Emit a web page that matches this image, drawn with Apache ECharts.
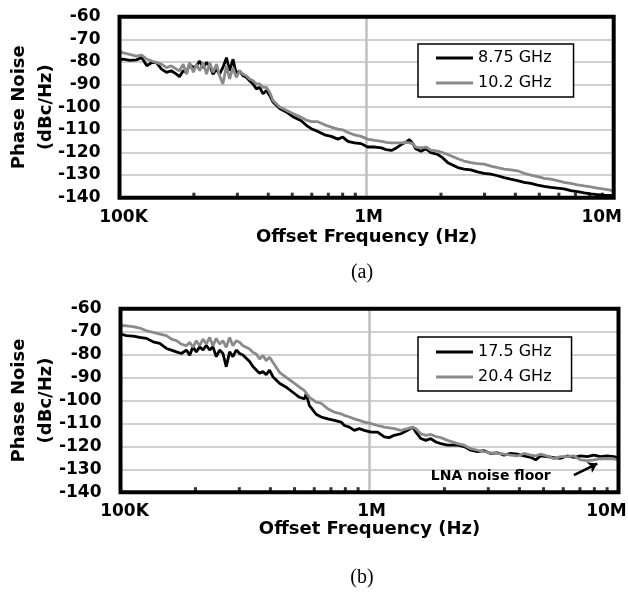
<!DOCTYPE html>
<html><head><meta charset="utf-8">
<script src="https://cdn.jsdelivr.net/npm/echarts@6/dist/echarts.min.js"></script>
<style>html,body{margin:0;padding:0;background:#fff;}#c{width:628px;height:595px;}</style>
</head><body><div id="c"></div>
<script>
// ---- data ----
const xTickValues = [1e5, 1e6, 1e7];
const xTickLabels = ['100K', '1M', '10M'];
const yRange = [-140, -60];
const yStep = 10;
const minorTickFreqs = [2e5, 3e5, 4e5, 5e5, 6e5, 7e5, 8e5, 9e5, 2e6, 3e6, 4e6, 5e6, 6e6, 7e6, 8e6, 9e6];

const topNames = ['8.75 GHz', '10.2 GHz'];
const topFreq = [1.00e5, 1.035e5, 1.10e5, 1.17e5, 1.23e5, 1.29e5, 1.35e5, 1.41e5, 1.48e5, 1.55e5,
  1.62e5, 1.70e5, 1.75e5, 1.81e5, 1.87e5, 1.92e5, 1.99e5,
  2.05e5, 2.11e5, 2.18e5, 2.25e5, 2.32e5, 2.39e5, 2.47e5, 2.54e5, 2.62e5, 2.71e5, 2.79e5, 2.88e5, 2.97e5,
  3.06e5, 3.16e5, 3.26e5, 3.36e5, 3.47e5, 3.58e5, 3.69e5, 3.81e5, 3.93e5,
  4.05e5, 4.18e5, 4.45e5, 4.73e5, 5.03e5,
  5.44e5, 5.70e5, 5.97e5, 6.35e5, 6.76e5, 7.19e5, 7.65e5, 8.01e5, 8.40e5, 8.93e5, 9.50e5,
  1.01e6, 1.08e6, 1.15e6, 1.20e6, 1.26e6, 1.32e6, 1.38e6, 1.44e6, 1.49e6, 1.54e6, 1.58e6, 1.66e6, 1.74e6, 1.82e6, 1.94e6,
  2.03e6, 2.13e6, 2.34e6, 2.48e6, 2.64e6, 2.81e6, 2.99e6,
  3.18e6, 3.39e6, 3.60e6, 3.83e6,
  4.08e6, 4.34e6, 4.62e6, 4.92e6,
  5.23e6, 5.56e6, 5.92e6,
  6.30e6, 6.70e6, 7.13e6, 7.59e6, 8.07e6, 8.59e6, 9.14e6, 9.72e6, 1.0e7];
const top875 = [-79.0, -78.8, -79.3, -79.1, -78.1, -81.7, -80.3, -80.3, -83.2, -84.6,
  -83.9, -85.4, -86.5, -83.9, -84.6, -81.0, -82.5,
  -81.7, -79.6, -82.5, -80.3, -81.7, -85.4, -83.2, -85.4, -82.5, -78.1, -83.9, -78.8, -85.4,
  -83.9, -86.1, -86.8, -88.3, -89.7, -91.9, -91.2, -94.1, -92.6,
  -94.8, -97.7, -100.6, -102.1, -104.2,
  -106.0, -108.0, -109.5, -110.7, -112.2, -112.9, -114.1, -113.2, -115.1, -115.8, -116.1,
  -117.6, -117.6, -118.0, -118.8, -119.1, -118.0, -116.5, -115.5, -114.3, -116.1, -118.4, -119.5, -118.4, -120.1, -120.9,
  -122.3, -124.5, -126.7, -127.4, -127.7, -128.6, -129.2,
  -129.6, -130.3, -131.1, -131.8,
  -132.5, -133.2, -133.7, -134.4,
  -135.0, -135.4, -135.8,
  -136.1, -136.9, -137.3, -137.9, -138.3, -138.6, -138.9, -139.0, -139.2];
const top102 = [-75.2, -76.0, -76.7, -77.4, -77.0, -78.8, -79.6, -80.3, -81.0, -82.5,
  -81.7, -83.2, -83.9, -81.0, -85.4, -80.3, -84.6,
  -81.0, -83.9, -80.3, -85.4, -80.3, -84.6, -81.0, -86.1, -89.7, -81.7, -87.5, -82.5, -86.8,
  -83.9, -85.4, -86.1, -87.5, -88.3, -89.7, -89.7, -91.2, -91.2,
  -93.4, -97.0, -99.9, -101.4, -102.8,
  -104.5, -105.7, -106.4, -106.4, -107.8, -108.8, -109.7, -110.0, -111.2, -112.2, -112.9,
  -114.1, -114.7, -115.1, -115.5, -115.8, -115.8, -115.8, -115.5, -115.8, -116.1, -117.6, -118.0, -117.6, -119.0, -119.4,
  -120.1, -120.9, -122.8, -123.8, -124.5, -124.9, -125.2,
  -126.0, -126.7, -127.4, -127.7,
  -128.1, -129.2, -130.0, -130.7,
  -131.5, -131.8, -132.5,
  -133.2, -133.7, -134.3, -134.8, -135.2, -135.8, -136.2, -136.7, -137.3];

const botNames = ['17.5 GHz', '20.4 GHz'];
const botFreq = [1.0e5, 1.057e5, 1.124e5, 1.195e5, 1.271e5, 1.352e5, 1.438e5,
  1.529e5, 1.601e5, 1.677e5, 1.756e5, 1.839e5, 1.896e5, 1.955e5,
  2.016e5, 2.079e5, 2.144e5, 2.211e5, 2.280e5, 2.351e5, 2.425e5, 2.501e5, 2.579e5, 2.659e5, 2.743e5, 2.828e5, 2.917e5,
  3.008e5, 3.102e5, 3.199e5, 3.299e5, 3.402e5, 3.509e5, 3.618e5, 3.731e5, 3.848e5, 3.968e5,
  4.092e5, 4.352e5, 4.628e5, 4.921e5,
  5.234e5, 5.481e5, 5.566e5, 5.740e5,
  6.105e5, 6.392e5, 6.798e5,
  7.228e5, 7.688e5, 7.93e5,
  8.30e5, 8.69e5,
  9.10e5, 9.53e5,
  1.014e6, 1.078e6, 1.147e6, 1.20e6, 1.257e6, 1.337e6, 1.422e6, 1.49e6, 1.536e6, 1.608e6, 1.684e6, 1.763e6, 1.847e6, 1.935e6,
  2.057e6, 2.256e6, 2.399e6, 2.551e6, 2.713e6, 2.885e6,
  3.069e6, 3.264e6, 3.470e6, 3.691e6, 3.925e6,
  4.173e6, 4.439e6, 4.648e6, 4.868e6,
  5.177e6, 5.505e6, 5.855e6,
  6.227e6, 6.621e6,
  7.042e6, 7.49e6, 7.96e6,
  8.47e6,
  9.01e6, 9.58e6, 9.88e6, 1.0e7];
const bot175 = [-71.0, -71.7, -71.9, -72.5, -72.9, -74.4, -75.1,
  -77.3, -78.0, -78.8, -79.5, -78.0, -80.2, -76.6,
  -78.8, -76.6, -78.0, -75.9, -78.0, -76.6, -80.9, -78.0, -79.5, -85.3, -78.8, -80.9, -78.0,
  -79.5, -80.2, -81.6, -83.0, -85.2, -86.7, -88.1, -87.4, -88.8, -86.7,
  -89.6, -92.5, -94.2, -96.4,
  -98.6, -99.3, -97.1, -102.2,
  -106.0, -107.2, -108.0,
  -108.7, -109.4, -110.9,
  -111.6, -113.0,
  -112.3, -113.0,
  -113.8, -113.8, -115.9, -116.2, -115.2, -114.5, -113.0, -111.6, -113.8, -116.6, -117.4, -116.6, -118.1, -118.8,
  -119.5, -119.5, -120.1, -121.7, -122.3, -121.9,
  -123.1, -122.8, -123.8, -123.1, -123.4,
  -124.2, -124.8, -125.9, -124.2,
  -124.5, -124.9, -125.2,
  -124.2, -124.8,
  -124.2, -124.5, -123.8,
  -124.5,
  -124.2, -124.5, -124.8, -125.0];
const bot204 = [-67.3, -67.4, -67.8, -68.4, -69.6, -70.3, -71.0,
  -71.7, -73.2, -73.9, -75.4, -76.1, -74.6, -76.8,
  -73.9, -76.1, -73.2, -75.4, -72.5, -76.1, -72.9, -75.4, -73.9, -76.8, -72.5, -76.1, -73.9,
  -74.6, -76.1, -76.8, -77.5, -79.0, -79.7, -81.9, -80.4, -82.6, -81.1,
  -83.3, -87.7, -89.9, -92.0,
  -94.2, -95.7, -94.9, -98.6,
  -100.7, -101.2, -103.6,
  -105.1, -105.8, -106.5,
  -107.2, -108.0,
  -108.7, -109.4,
  -110.1, -110.9, -111.6, -111.9, -112.3, -113.0, -112.3, -111.6, -112.3, -114.5, -115.2, -114.8, -115.7, -116.2,
  -117.4, -118.8, -119.5, -121.0, -121.7, -122.3,
  -122.8, -123.1, -123.4, -123.8, -124.2,
  -123.1, -123.8, -124.2, -123.4,
  -124.2, -125.4, -124.5,
  -124.5, -124.2,
  -125.9, -126.2, -125.9,
  -125.4,
  -125.4, -125.4, -125.9, -125.6];

const noteText = 'LNA noise floor';
const notePoint = [3.07e6, -133.0];
const arrowFrom = [6.62e6, -132.6];
const arrowTo = [8.22e6, -127.5];
const panelLabels = ['(a)', '(b)'];
const xName = 'Offset Frequency (Hz)';
const yName = 'Phase Noise\n(dBc/Hz)';

// ---- chart ----
const FONT = 'DejaVu Sans';
const pair = (fs, vs) => fs.map((f, i) => [f, vs[i]]);
const richKeys = ['a', 'b', 'c'];
function xLabelFmt(v) {
  for (let i = 0; i < xTickValues.length; i++) {
    if (Math.abs(Math.log10(v) - Math.log10(xTickValues[i])) < 1e-6) return '{' + richKeys[i] + '|' + xTickLabels[i] + '}';
  }
  return '';
}
const lblFont = {fontFamily: FONT, fontWeight: 'bold', fontSize: 17, color: '#000'};
function xAxisOf(i, nameGap) {
  return {
    type: 'log', logBase: 10, gridIndex: i, min: xTickValues[0], max: xTickValues[xTickValues.length - 1],
    name: xName, nameLocation: 'middle', nameGap: nameGap, nameMoveOverlap: false,
    nameTextStyle: {fontFamily: FONT, fontWeight: 'bold', fontSize: 18, color: '#000'},
    axisLine: {show: false}, axisTick: {show: false}, minorTick: {show: false},
    axisLabel: Object.assign({margin: 11, formatter: xLabelFmt,
      rich: {
        a: Object.assign({padding: [0, 0, 0, 8]}, lblFont),
        b: Object.assign({padding: [0, 0, 0, 4]}, lblFont),
        c: Object.assign({padding: [0, 24, 0, 0]}, lblFont)
      }}, lblFont),
    splitLine: {show: true, lineStyle: {color: '#c0c0c0', width: 2.5}}
  };
}
function yAxisOf(i, nameGap) {
  return {
    type: 'value', gridIndex: i, min: yRange[0], max: yRange[1], interval: yStep,
    name: yName, nameLocation: 'middle', nameRotate: 90, nameGap: nameGap, nameMoveOverlap: false,
    nameTextStyle: {fontFamily: FONT, fontWeight: 'bold', fontSize: 18, lineHeight: 27, color: '#000'},
    axisLine: {show: false}, axisTick: {show: false},
    axisLabel: Object.assign({margin: 19}, lblFont),
    splitLine: {show: true, lineStyle: {color: '#c0c0c0', width: 1.7}}
  };
}
function lineSeries(name, gi, fs, vs, color, z, extra) {
  return Object.assign({
    type: 'line', name: name, xAxisIndex: gi, yAxisIndex: gi, data: pair(fs, vs),
    symbol: 'none', showSymbol: false, smooth: false, z: z, silent: true,
    lineStyle: {color: color, width: 2.8}, itemStyle: {color: color}
  }, extra || {});
}
function tickSeries(gi) {
  return {
    type: 'scatter', xAxisIndex: gi, yAxisIndex: gi, data: minorTickFreqs.map(f => [f, yRange[0]]),
    symbol: 'rect', symbolSize: [3, 5], symbolOffset: [0, -2.5], clip: false, silent: true, z: 6,
    itemStyle: {color: '#000'}
  };
}
function legendOf(names, top, padding) {
  return {
    data: names.map(n => ({name: n, icon: 'rect'})), orient: 'vertical', left: 418, top: top,
    itemWidth: 37, itemHeight: 3, itemGap: 9, padding: padding,
    borderColor: '#000', borderWidth: 1.5, backgroundColor: '#fff', selectedMode: false, z: 10,
    textStyle: {fontFamily: FONT, fontSize: 16, lineHeight: 16, color: '#000'}
  };
}
const BLACK = '#000000', GRAY = '#8a8a8a';
const option = {
  animation: false,
  backgroundColor: '#fff',
  grid: [
    {left: 119.5, top: 16.7, width: 494.2, height: 181, show: true, borderColor: '#000', borderWidth: 4, backgroundColor: 'transparent', z: 5, outerBoundsMode: 'none'},
    {left: 120.5, top: 308.8, width: 498, height: 183.4, show: true, borderColor: '#000', borderWidth: 4, backgroundColor: 'transparent', z: 5, outerBoundsMode: 'none'}
  ],
  xAxis: [xAxisOf(0, 31), xAxisOf(1, 28)],
  yAxis: [yAxisOf(0, 60), yAxisOf(1, 61)],
  legend: [legendOf(topNames, 44, [6, 22, 6, 18]), legendOf(botNames, 337, [7, 20, 6, 18])],
  series: [
    lineSeries(topNames[0], 0, topFreq, top875, BLACK, 3),
    lineSeries(topNames[1], 0, topFreq, top102, GRAY, 4),
    lineSeries(botNames[0], 1, botFreq, bot175, BLACK, 3, {
      markLine: {
        silent: true, symbol: ['none', 'arrow'], symbolSize: 9, animation: false,
        lineStyle: {color: '#000', width: 2.5, type: 'solid'}, label: {show: false},
        data: [[{coord: arrowFrom}, {coord: arrowTo}]]
      },
      markPoint: {
        silent: true, symbol: 'rect', symbolSize: 1, animation: false,
        itemStyle: {color: 'rgba(0,0,0,0)'},
        label: {show: true, position: 'inside', formatter: noteText, color: '#000', fontFamily: FONT, fontWeight: 'bold', fontSize: 14},
        data: [{coord: notePoint}]
      }
    }),
    lineSeries(botNames[1], 1, botFreq, bot204, GRAY, 4),
    tickSeries(0),
    tickSeries(1)
  ],
  graphic: [
    {type: 'text', x: 362, y: 273, style: {text: panelLabels[0], fontFamily: 'Liberation Serif', fontSize: 20, fill: '#000', align: 'center', verticalAlign: 'middle'}},
    {type: 'text', x: 362, y: 578, style: {text: panelLabels[1], fontFamily: 'Liberation Serif', fontSize: 20, fill: '#000', align: 'center', verticalAlign: 'middle'}}
  ]
};
const chart = echarts.init(document.getElementById('c'), null, {renderer: 'canvas'});
chart.setOption(option);
</script>
</body></html>
